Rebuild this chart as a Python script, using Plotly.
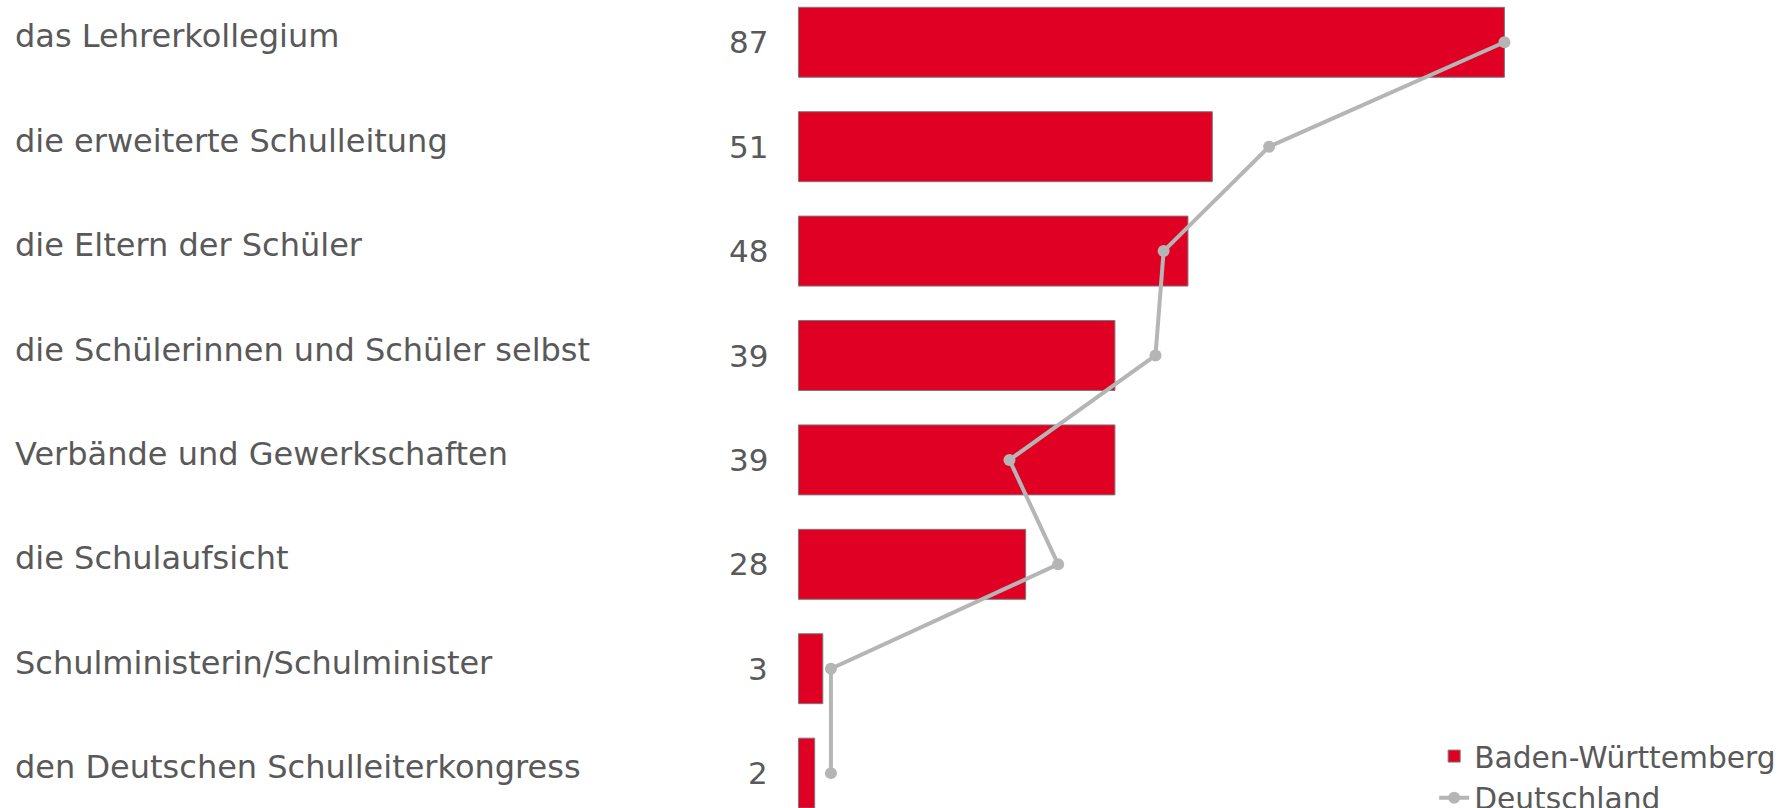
import plotly.graph_objects as go

categories = [
    "das Lehrerkollegium",
    "die erweiterte Schulleitung",
    "die Eltern der Schüler",
    "die Schülerinnen und Schüler selbst",
    "Verbände und Gewerkschaften",
    "die Schulaufsicht",
    "Schulministerin/Schulminister",
    "den Deutschen Schulleiterkongress",
]
bw_values = [87, 51, 48, 39, 39, 28, 3, 2]
de_values = [87, 58, 45, 44, 26, 32, 4, 4]

RED = "#e00024"
GRAY = "#b5b5b5"
TEXT = "#595959"
FONT = "DejaVu Sans, Verdana, sans-serif"

ypos = list(range(len(categories)))

fig = go.Figure()
fig.add_trace(go.Bar(
    x=bw_values, y=ypos, orientation="h", name="Baden-Württemberg",
    marker=dict(color=RED, line=dict(color="#7a7a7a", width=1)),
    width=0.67, legendgroup="a", hoverinfo="x",
))
fig.add_trace(go.Scatter(
    x=de_values, y=ypos, mode="lines+markers", name="Deutschland",
    line=dict(color=GRAY, width=4), marker=dict(color=GRAY, size=12),
    legendgroup="b", cliponaxis=False,
))

annotations = []
for i, (c, v) in enumerate(zip(categories, bw_values)):
    annotations.append(dict(
        text=c, xref="paper", x=0.0072, xanchor="left",
        yref="y", y=i, yanchor="middle", showarrow=False, yshift=6,
        font=dict(family=FONT, size=32, color=TEXT),
    ))
    annotations.append(dict(
        text=str(v), xref="x", x=0, xanchor="right", xshift=-28,
        yref="y", y=i, yanchor="middle", showarrow=False,
        font=dict(family=FONT, size=31, color=TEXT),
    ))

fig.update_layout(
    width=1786, height=808,
    margin=dict(l=0, r=0, t=0, b=0, autoexpand=False),
    paper_bgcolor="white", plot_bgcolor="white",
    font=dict(family=FONT, size=29.7, color=TEXT),
    xaxis=dict(range=[-98.4, 121.7], visible=False, fixedrange=True),
    yaxis=dict(range=[7.334, -0.405], visible=False, fixedrange=True),
    showlegend=True,
    legend=dict(
        x=0.803, xanchor="left", y=0.038, yanchor="middle",
        bgcolor="rgba(0,0,0,0)", font=dict(family=FONT, size=29.7, color=TEXT),
        tracegroupgap=17, traceorder="normal",
    ),
    annotations=annotations,
    bargap=0.33,
)

fig.write_html("out.html", config={"displayModeBar": False})
